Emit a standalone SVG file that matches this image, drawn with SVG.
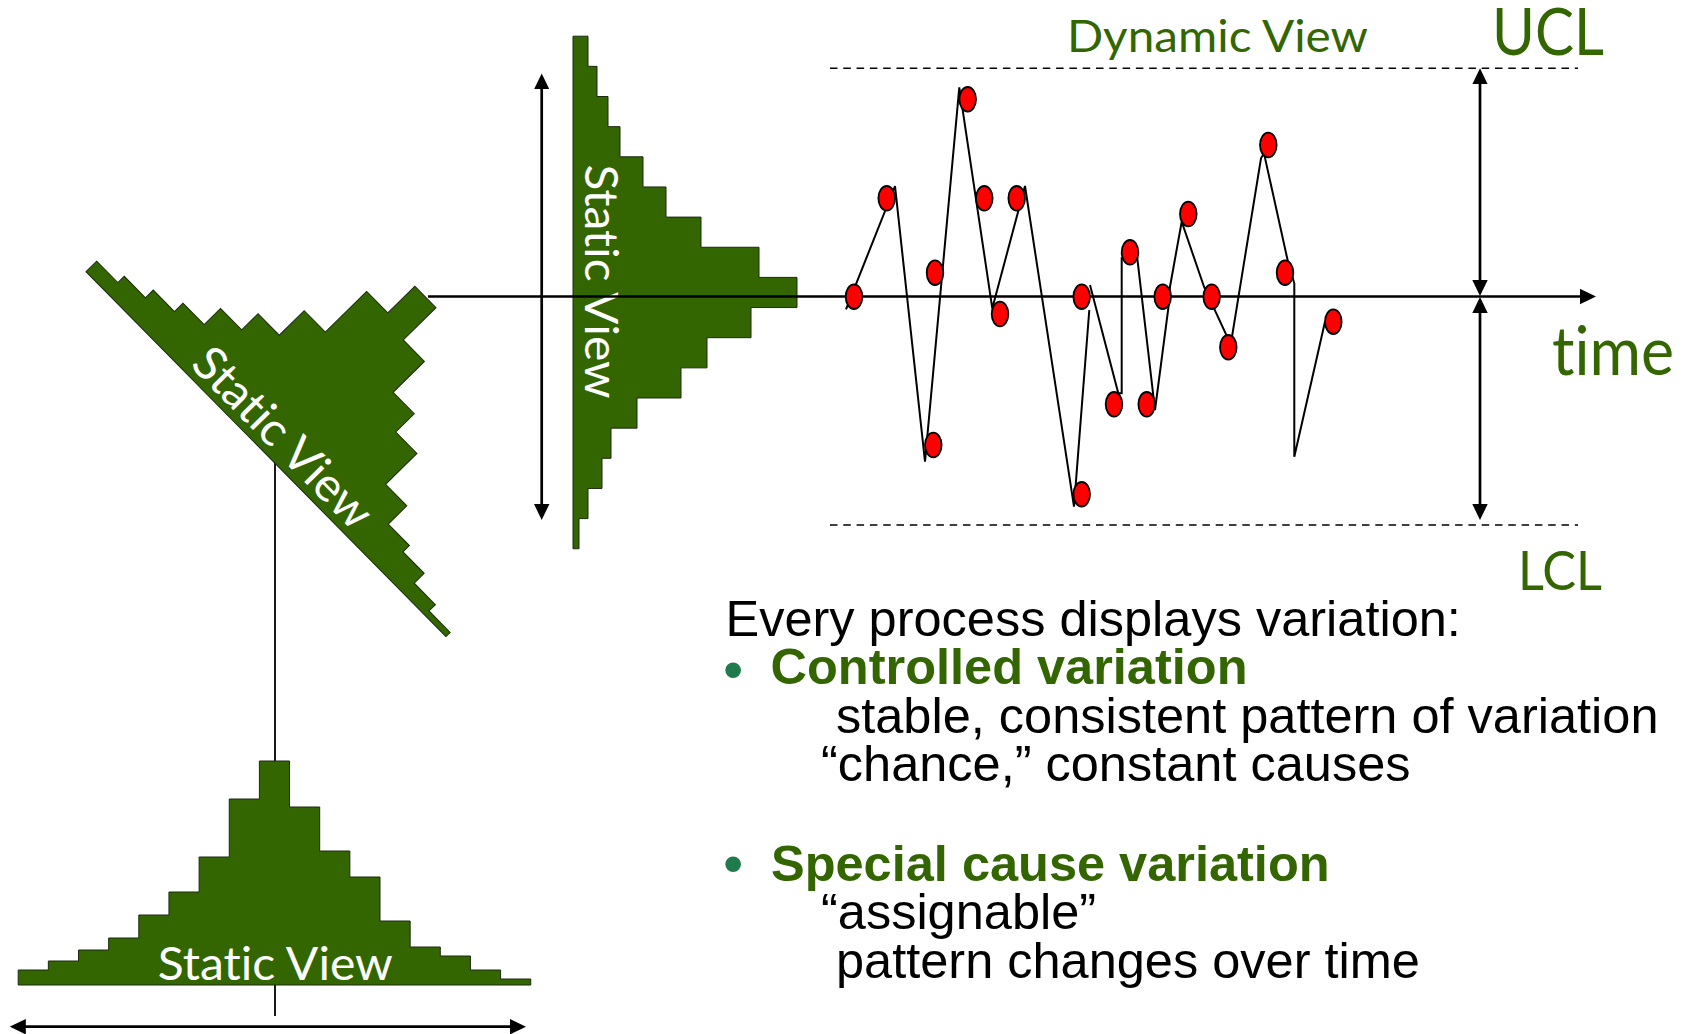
<svg xmlns="http://www.w3.org/2000/svg" width="1690" height="1034" viewBox="0 0 1690 1034">
  <style>
    .hist { fill: #336600; stroke: #1c2a10; stroke-width: 1; }
    .hlabel { font-family: Lato, "Open Sans", sans-serif; font-size: 47px; fill: #ffffff; font-variant-ligatures: none; font-feature-settings: "liga" 0; }
    .glabel { font-family: Lato, "Open Sans", sans-serif; fill: #336600; font-variant-ligatures: none; font-feature-settings: "liga" 0; }
    .axis { stroke: #000; stroke-width: 2.7; fill: none; }
    .limit { stroke: #000; stroke-width: 1.6; stroke-dasharray: 7.5 5.8; fill: none; }
    .trace { stroke: #000; stroke-width: 2; fill: none; stroke-linejoin: miter; }
    .pt { fill: #ff0000; stroke: #000; stroke-width: 1.8; }
    .body { font-family: "Liberation Sans", Arial, sans-serif; font-size: 50.5px; fill: #000; }
    .head { font-family: "Liberation Sans", Arial, sans-serif; font-size: 50.5px; font-weight: bold; fill: #336600; }
    .bullet { font-family: "Liberation Sans", Arial, sans-serif; font-size: 58px; fill: #1f7a4c; }
  </style>
  <defs>
    <!-- one histogram, baseline along +x, bars rising toward -y -->
    <path id="hist" class="hist" d="M0,0 V-15 H30.15 V-24 H60.3 V-35 H90.45 V-47 H120.6 V-70 H150.75 V-93 H180.9 V-128 H211.05 V-186 H241.2 V-224 H271.35 V-178 H301.5 V-134 H331.65 V-108 H361.8 V-64 H391.95 V-38 H422.1 V-29 H452.25 V-15 H482.4 V-6 H512.55 V0 Z"/>
    <marker id="head" viewBox="0 0 16 16" refX="12" refY="8" markerWidth="16" markerHeight="16" markerUnits="userSpaceOnUse" orient="auto-start-reverse">
      <path d="M0,0.3 L16,8 L0,15.7 Z" fill="#000"/>
    </marker>
  </defs>

  <!-- projection line down to the bottom histogram -->
  <g id="connectors-back">
    <line x1="275" y1="460" x2="275" y2="1016" stroke="#000" stroke-width="1.8"/>
  </g>

  <g id="hist-diagonal" transform="translate(86,271.7) rotate(45.4)">
    <use href="#hist"/>
    <text class="hlabel" x="139.5" y="-7.6" textLength="234" lengthAdjust="spacingAndGlyphs">Static View</text>
  </g>

  <g id="hist-vertical" transform="translate(573,36.2) rotate(90)">
    <use href="#hist"/>
    <text class="hlabel" x="128.4" y="-12" textLength="234" lengthAdjust="spacingAndGlyphs">Static View</text>
  </g>

  <g id="hist-bottom" transform="translate(18.2,985)">
    <use href="#hist"/>
    <text class="hlabel" x="139.6" y="-5" textLength="235" lengthAdjust="spacingAndGlyphs">Static View</text>
  </g>

  <g id="connectors">
    <!-- time axis -->
    <line class="axis" x1="428" y1="296.5" x2="1592" y2="296.5" marker-end="url(#head)"/>
    <!-- spread arrows -->
    <line class="axis" x1="541.7" y1="77.4" x2="541.7" y2="516" marker-start="url(#head)" marker-end="url(#head)"/>
    <line class="axis" x1="13.8" y1="1026.7" x2="522" y2="1026.7" marker-start="url(#head)" marker-end="url(#head)"/>
    <line class="axis" x1="1480" y1="72.3" x2="1480" y2="292" marker-start="url(#head)" marker-end="url(#head)"/>
    <line class="axis" x1="1480" y1="301" x2="1480" y2="516" marker-start="url(#head)" marker-end="url(#head)"/>
    <!-- control limits -->
    <line class="limit" x1="830" y1="68.3" x2="1578" y2="68.3"/>
    <line class="limit" x1="830" y1="525" x2="1578" y2="525"/>
  </g>

  <g id="run-chart">
    <path class="trace" d="M846,309.3 L895,186 L925,461.7 L959.3,87.3 L992.3,308.3 L1025,186 L1074,506.7 L1089.3,310
      M1090,285 L1118.3,393.3 L1121.7,393.3 L1121.7,258.3 L1137.3,258.3 L1155,410 L1168.3,308.3 L1170,286.7 L1181.7,221.7 L1204,286.7 L1231,345 L1229.3,353.3 L1261,158.3 L1264,153.3 L1288.3,263.3 L1294.3,283.3 L1294.3,456.7 L1325,321.7"/>
    <ellipse class="pt" cx="854" cy="296.7" rx="8.3" ry="12.3"/>
    <ellipse class="pt" cx="886.7" cy="198.3" rx="8.3" ry="12.3"/>
    <ellipse class="pt" cx="933.3" cy="445" rx="8.3" ry="12.3"/>
    <ellipse class="pt" cx="935" cy="272.7" rx="8.3" ry="12.3"/>
    <ellipse class="pt" cx="967.7" cy="99.3" rx="8.3" ry="12.3"/>
    <ellipse class="pt" cx="984.3" cy="198.3" rx="8.3" ry="12.3"/>
    <ellipse class="pt" cx="1000" cy="314" rx="8.3" ry="12.3"/>
    <ellipse class="pt" cx="1016.7" cy="198.3" rx="8.3" ry="12.3"/>
    <ellipse class="pt" cx="1081.7" cy="296.7" rx="8.3" ry="12.3"/>
    <ellipse class="pt" cx="1081.7" cy="494.3" rx="8.3" ry="12.3"/>
    <ellipse class="pt" cx="1114" cy="404.3" rx="8.3" ry="12.3"/>
    <ellipse class="pt" cx="1130" cy="252.3" rx="8.3" ry="12.3"/>
    <ellipse class="pt" cx="1146.7" cy="404.3" rx="8.3" ry="12.3"/>
    <ellipse class="pt" cx="1162.7" cy="296.7" rx="8.3" ry="12.3"/>
    <ellipse class="pt" cx="1188.3" cy="214" rx="8.3" ry="12.3"/>
    <ellipse class="pt" cx="1211.7" cy="296.7" rx="8.3" ry="12.3"/>
    <ellipse class="pt" cx="1228.3" cy="347.3" rx="8.3" ry="12.3"/>
    <ellipse class="pt" cx="1268.3" cy="145" rx="8.3" ry="12.3"/>
    <ellipse class="pt" cx="1285" cy="272.7" rx="8.3" ry="12.3"/>
    <ellipse class="pt" cx="1333.3" cy="321.7" rx="8.3" ry="12.3"/>
  </g>

  <g id="chart-labels">
    <text class="glabel" x="1067" y="51.7" font-size="45" textLength="301" lengthAdjust="spacingAndGlyphs">Dynamic View</text>
    <text class="glabel" x="1492" y="55" font-size="65" textLength="112" lengthAdjust="spacingAndGlyphs">UCL</text>
    <text class="glabel" x="1518" y="590" font-size="55" textLength="84" lengthAdjust="spacingAndGlyphs">LCL</text>
    <text class="glabel" x="1552" y="375" font-size="68" textLength="122" lengthAdjust="spacingAndGlyphs">time</text>
  </g>

  <g id="notes">
    <text class="body" x="725.5" y="636">Every process displays variation:</text>
    <text class="bullet" x="723" y="689">•</text>
    <text class="head" x="770.5" y="684.3">Controlled variation</text>
    <text class="body" x="836" y="732.7">stable, consistent pattern of variation</text>
    <text class="body" x="821" y="781">“chance,” constant causes</text>
    <text class="bullet" x="723" y="883.4">•</text>
    <text class="head" x="771" y="881">Special cause variation</text>
    <text class="body" x="821" y="929.3">“assignable”</text>
    <text class="body" x="836" y="977.7">pattern changes over time</text>
  </g>
</svg>
